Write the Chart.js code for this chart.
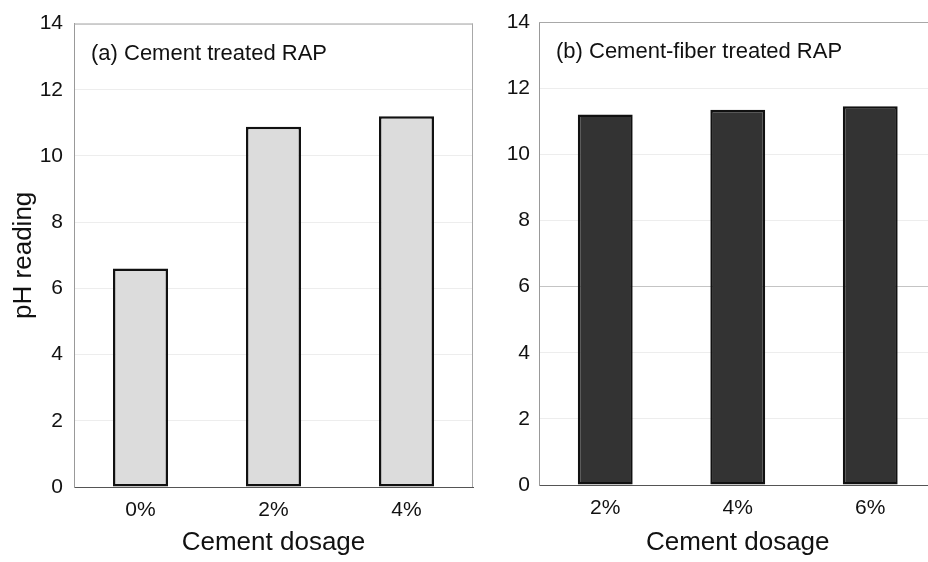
<!DOCTYPE html>
<html>
<head>
<meta charset="utf-8">
<script src="https://cdn.jsdelivr.net/npm/chart.js@4.4.1/dist/chart.umd.min.js"></script>
<style>
  html, body { margin: 0; padding: 0; background: #fff; overflow: hidden; }
  body { width: 928px; height: 562px; position: relative; }
  .panel { position: absolute; top: 0; width: 480px; height: 562px; }
  #left { left: 0; }
  #right { left: 470px; }
</style>
</head>
<body>
<div class="panel" id="left"><canvas id="chartA" width="480" height="562"></canvas></div>
<div class="panel" id="right"><canvas id="chartB" width="480" height="562"></canvas></div>
<script>
// data
const dosageA = ['0%', '2%', '4%'];
const phA = [6.6, 10.88, 11.2];
const dosageB = ['2%', '4%', '6%'];
const phB = [11.2, 11.35, 11.45];
const yTicks = [0, 2, 4, 6, 8, 10, 12, 14];

const FONT = '"Liberation Sans", Arial, Helvetica, sans-serif';

// top/right frame lines and the panel caption
const frame = {
  id: 'frame',
  afterDatasetsDraw(chart, args, opts) {
    const ctx = chart.ctx;
    const a = chart.chartArea;
    ctx.save();
    ctx.strokeStyle = '#a8a8a8';
    ctx.lineWidth = 1;
    ctx.beginPath();
    ctx.moveTo(a.left, a.top + 0.5);
    ctx.lineTo(a.right, a.top + 0.5);
    ctx.moveTo(a.right - 0.5, a.top);
    ctx.lineTo(a.right - 0.5, a.bottom);
    ctx.stroke();
    ctx.font = '22px ' + FONT;
    ctx.fillStyle = '#111';
    ctx.textBaseline = 'middle';
    ctx.textAlign = 'left';
    ctx.fillText(opts.label, a.left + 17, a.top + 30);
    ctx.restore();
  }
};

function makeChart(id, labels, values, cfg) {
  return new Chart(document.getElementById(id), {
    type: 'bar',
    data: {
      labels: labels,
      datasets: [{
        data: values,
        backgroundColor: cfg.fill,
        borderColor: '#111',
        borderWidth: 2.5,
        borderSkipped: false,
        barPercentage: 0.414,
        categoryPercentage: 1
      }]
    },
    plugins: [frame],
    options: {
      responsive: false,
      animation: false,
      layout: { padding: { top: 22, right: cfg.padRight, left: 0, bottom: 0 } },
      plugins: {
        legend: { display: false },
        tooltip: { enabled: false },
        frame: { label: cfg.caption }
      },
      scales: {
        x: {
          grid: { drawOnChartArea: false, drawTicks: false },
          border: { color: '#555', width: 1 },
          ticks: { color: '#111', font: { family: FONT, size: 21 }, padding: 11 },
          title: {
            display: true,
            text: 'Cement dosage',
            color: '#111',
            font: { family: FONT, size: 26 },
            padding: { top: 0, bottom: 4 }
          },
          afterFit: (s) => { s.height = cfg.xHeight; }
        },
        y: {
          min: 0,
          max: 14,
          afterBuildTicks: (s) => { s.ticks = yTicks.map(v => ({ value: v })); },
          grid: {
            drawTicks: false,
            color: (c) => (c.tick && c.tick.value === 6 && cfg.darkSix) ? '#c4c4c4' : '#ededed'
          },
          border: { color: '#999', width: 1 },
          ticks: { color: '#111', font: { family: FONT, size: 21 }, padding: cfg.tickPad },
          title: {
            display: cfg.yTitle,
            text: 'pH reading',
            color: '#111',
            font: { family: FONT, size: 26 },
            padding: { top: 8, bottom: 0 }
          },
          afterFit: (s) => { s.width = cfg.yWidth; }
        }
      }
    }
  });
}

makeChart('chartA', dosageA, phA, {
  fill: '#dcdcdc',
  caption: '(a) Cement treated RAP',
  padRight: 7,
  xHeight: 75,
  yWidth: 74,
  tickPad: 11,
  yTitle: true,
  darkSix: false
});

makeChart('chartB', dosageB, phB, {
  fill: '#333333',
  caption: '(b) Cement-fiber treated RAP',
  padRight: 13.5,
  xHeight: 77,
  yWidth: 69,
  tickPad: 9,
  yTitle: false,
  darkSix: true
});
</script>
</body>
</html>
